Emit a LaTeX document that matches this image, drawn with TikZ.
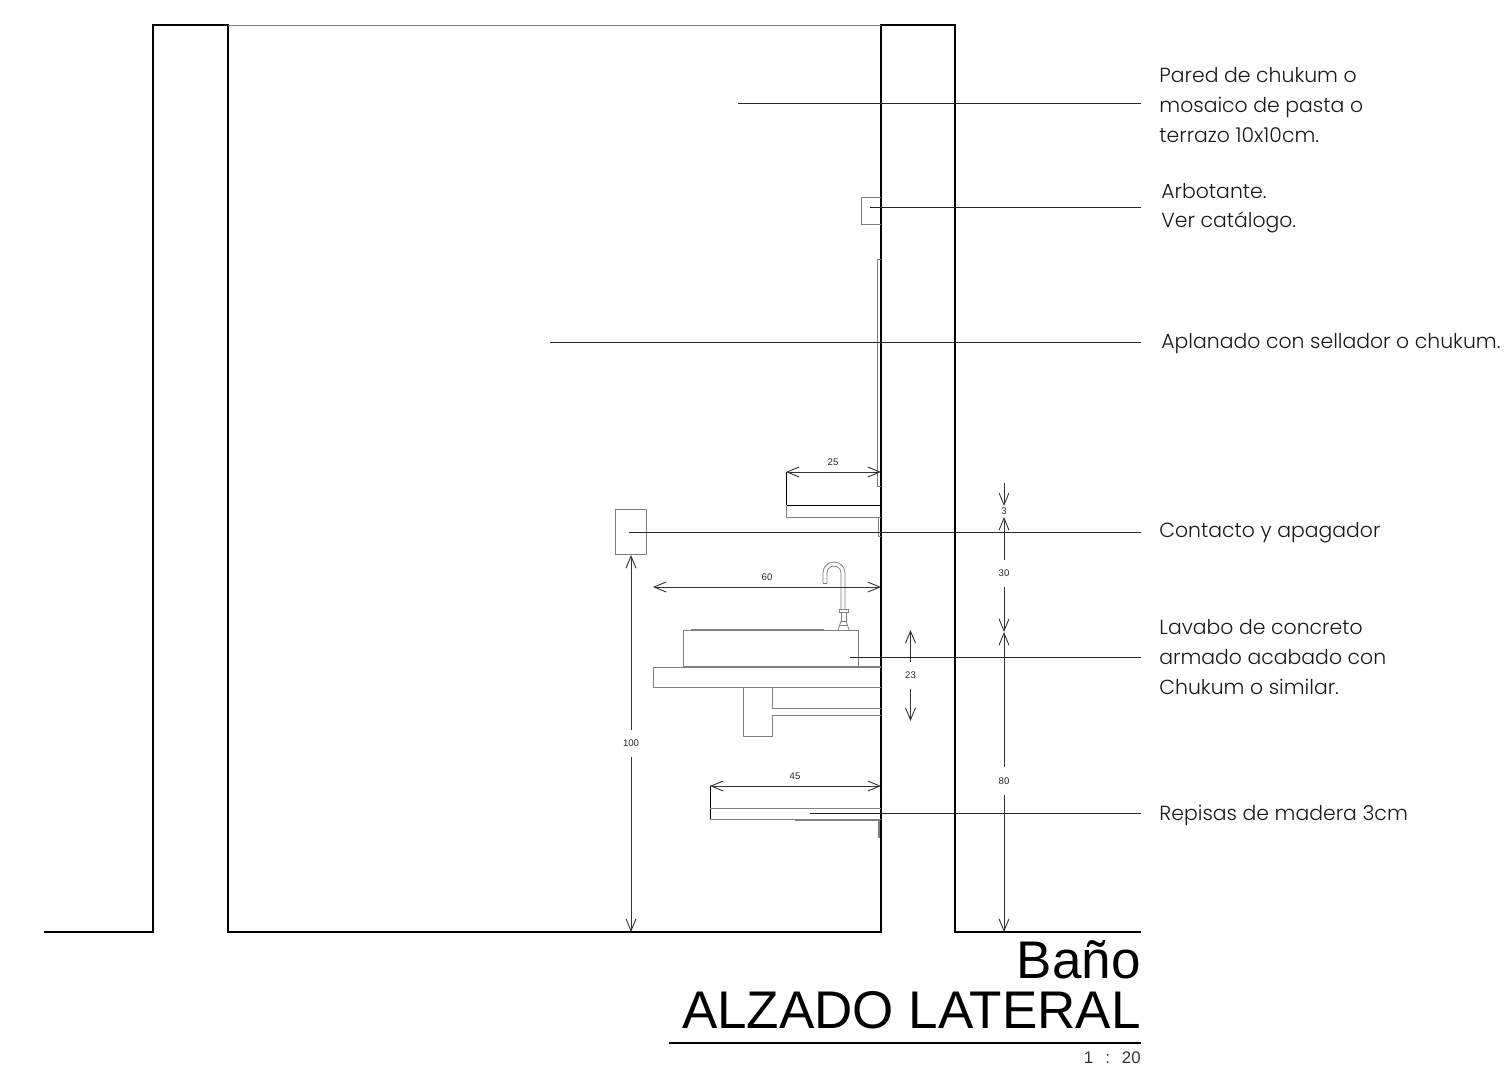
\documentclass[tikz,border=0pt]{standalone}
\usepackage{fontspec}
\setmainfont{Liberation Sans}
\newfontfamily\notefont[UprightFont=* Light]{Poppins}
\usetikzlibrary{arrows.meta}
\tikzset{
    wall/.style={line width=0.52pt,black},
    fine/.style={line width=0.4pt,black!50},
    heavy/.style={line width=0.7pt,black!50},
    leader/.style={line width=0.4pt,black!85},
    dimline/.style={line width=0.45pt,black!80,>={Straight Barb[length=6pt,width=5pt]}},
    dimtext/.style={font=\fontsize{4.8}{5}\selectfont,black!85,inner sep=0pt},
    note/.style={font=\notefont\fontsize{10.2}{14.8}\selectfont,align=left,anchor=west,inner xsep=9pt,inner ysep=0pt,black!90},
    titletext/.style={font=\fontsize{26.5}{27}\selectfont,anchor=base east,inner sep=0pt},
  }
\begin{document}
\begin{tikzpicture}[x=0.5pt,y=-0.5pt]
				  \useasboundingbox (0,0) rectangle (1509,1072);
				  %murs
				  \coordinate(W1) at (44,932);
				  \coordinate(W2) at (153,932);
				  \coordinate(W3) at (153,25);
				  \coordinate(W4) at (228,25);
				  \coordinate(W5) at (228,932);
				  \coordinate(W6) at (881,932);
				  \coordinate(W7) at (881,25);
				  \coordinate(W8) at (955,25);
				  \coordinate(W9) at (955,932);
				  \coordinate(W10) at (1141,932);
				  \draw[wall] (W1)--(W2)--(W3)--(W4)--(W5)--(W6)--(W7)--(W8)--(W9)--(W10);
				  \draw[fine] (W4)--(W7);

				  %arbotante, panneau, contact
				  \draw[fine] (881,197.5)--(861.5,197.5)--(861.5,224)--(881,224);
				  \draw[fine] (881,259.5)--(877,259.5)--(877,486.5)--(881,486.5);
				  \draw[fine] (615,509) rectangle (646,554);

				  %repisa haute
				  \coordinate(S1) at (786,472);
				  \coordinate(S2) at (881,472);
				  \draw[wall,line width=0.45pt] (S1)--(786,505)--(881,505);
				  \draw[fine] (786,505)--(786,517)--(881,517);
				  \draw[fine] (862,517.5)--(878.5,517.5)--(878.5,536)--(881,536);

				  %robinet
				  \draw[fine] (823,583)--(823,573) arc[radius=11,start angle=180,end angle=360]--(845,609);
				  \draw[fine] (827,583)--(827,573) arc[radius=7,start angle=180,end angle=360]--(841,609);
				  \draw[fine] (823,583)--(827,583);
				  \draw[fine] (839,609) rectangle (848,612);
				  \draw[fine] (841,612)--(841,621)--(846,621)--(846,612);
				  \draw[fine] (841,621)--(838,630);
				  \draw[fine] (846,621)--(849,630);
				  \draw[fine] (840,625)--(847,625);

				  %lavabo
				  \draw[fine] (683,667)--(683,630)--(858,630)--(858,667);
				  \draw[heavy] (691,630)--(824,630);
				  \draw[heavy] (683,667)--(881,667);
				  \draw[fine] (881,667)--(653,667)--(653,687)--(881,687);
				  \draw[fine] (743,687)--(743,736)--(772,736)--(772,715)--(881,715);
				  \draw[fine] (772,687)--(772,708)--(881,708);

				  %repisa basse
				  \coordinate(R1) at (710,786);
				  \coordinate(R2) at (881,786);
				  \draw[wall,line width=0.45pt] (R1)--(710,819);
				  \draw[fine] (710,808)--(881,808);
				  \draw[fine] (710,819)--(881,819);
				  \draw[heavy] (795,820.5)--(879,820.5)--(879,838);

				  %cotes horizontales
				  \node[dimtext] (n25) at (833,462) {25};
				  \draw[dimline,<->] (S1)--(S2);
				  \coordinate(H1) at (653,587);
				  \coordinate(H2) at (881,587);
				  \node[dimtext] (n60) at (767,577) {60};
				  \draw[dimline,<->] (H1)--(H2);
				  \node[dimtext] (n45) at (795,776) {45};
				  \draw[dimline,<->] (R1)--(R2);

				  %cotes verticales
				  \coordinate(V1) at (631,555);
				  \coordinate(V2) at (631,932);
				  \node[dimtext,inner ysep=5pt] (n100) at (631,743.5) {100};
				  \draw[dimline,->] (n100)--(V1);
				  \draw[dimline,->] (n100)--(V2);
				  \coordinate(V3) at (910.5,630);
				  \coordinate(V4) at (910.5,721);
				  \node[dimtext,inner ysep=5pt] (n23) at (910.5,675.5) {23};
				  \draw[dimline,->] (n23)--(V3);
				  \draw[dimline,->] (n23)--(V4);
				  \coordinate(T0) at (1004,483);
				  \coordinate(T1) at (1004,506);
				  \coordinate(T2) at (1004,517);
				  \coordinate(T3) at (1004,632);
				  \coordinate(T4) at (1004,932);
				  \node[dimtext] (n3) at (1004,511) {3};
				  \draw[dimline,->] (T0)--(T1);
				  \node[dimtext,inner ysep=5pt] (n30) at (1004,573.5) {30};
				  \draw[dimline,->] (n30)--(T2);
				  \draw[dimline,->] (n30)--(T3);
				  \node[dimtext,inner ysep=5pt] (n80) at (1004,781) {80};
				  \draw[dimline,->] (n80)--(T3);
				  \draw[dimline,->] (n80)--(T4);

				  %notes
				  \node[note] (nPared) at (1141,105) {Pared de chukum o\\mosaico de pasta o\\terrazo 10x10cm.};
				  \node[note,inner xsep=10pt] (nArbo) at (1141,208) {Arbotante.\\Ver catálogo.};
				  \node[note,inner xsep=10pt] (nApla) at (1141,344) {Aplanado con sellador o chukum.};
				  \node[note] (nCont) at (1141,533) {Contacto y apagador};
				  \node[note] (nLava) at (1141,657) {Lavabo de concreto\\armado acabado con\\Chukum o similar.};
				  \node[note] (nRepi) at (1141,815) {Repisas de madera 3cm};
				  \coordinate(L1) at (738,103);
				  \coordinate(L2) at (870,207.5);
				  \coordinate(L3) at (550,342.5);
				  \coordinate(L4) at (629,532);
				  \coordinate(L5) at (850,657);
				  \coordinate(L6) at (810,813);
				  \draw[leader] (L1)--(L1 -| nPared.west);
				  \draw[leader] (L2)--(L2 -| nArbo.west);
				  \draw[leader] (L3)--(L3 -| nApla.west);
				  \draw[leader] (L4)--(L4 -| nCont.west);
				  \draw[leader] (L5)--(L5 -| nLava.west);
				  \draw[leader] (L6)--(L6 -| nRepi.west);

				  %titre
				  \node[titletext] (tBano) at (1141,978) {Baño};
				  \node[titletext] (tAlzado) at (1141,1028) {ALZADO LATERAL};
				  \coordinate(B1) at (669,1043);
				  \coordinate(B2) at (1141,1043);
				  \draw[line width=1pt] (B1)--(B2);
				  \node[font=\fontsize{8.4}{8.4}\selectfont,anchor=base east,inner sep=0pt,black!80] (tEch) at (1141,1063) {1\hspace{6pt}:\hspace{6pt}20};
				  \end{tikzpicture}
\end{document}
